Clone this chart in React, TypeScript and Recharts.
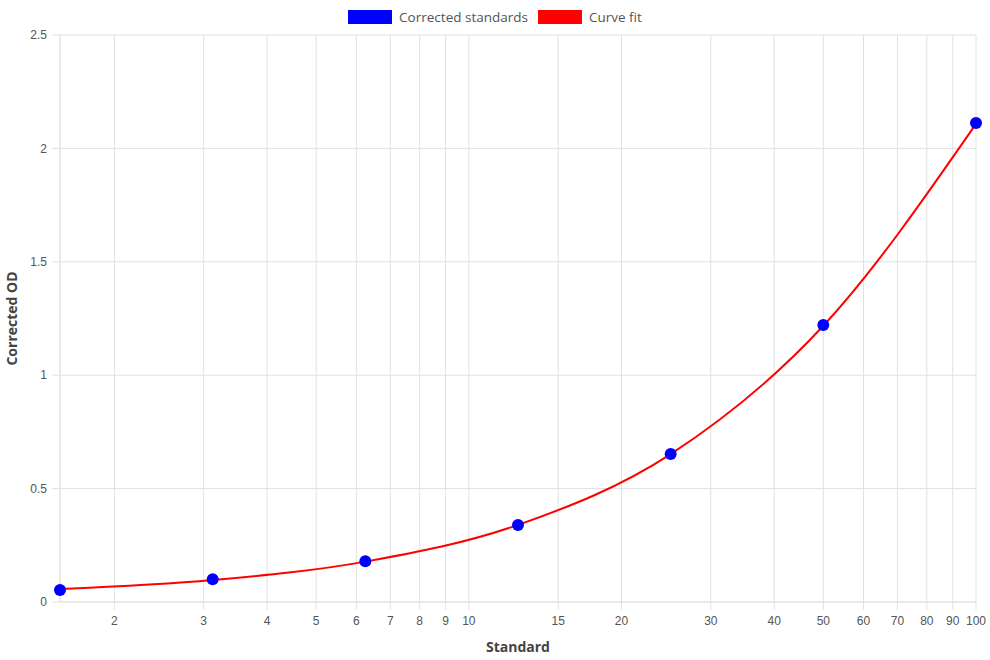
import React from 'react';
import { ComposedChart, Line, Scatter, XAxis, YAxis, CartesianGrid } from 'recharts';

const standards = [1.5625, 3.125, 6.25, 12.5, 25, 50, 100];
const correctedOD = [0.053, 0.1, 0.18, 0.339, 0.653, 1.221, 2.112];
const curveFit = [0.057, 0.097, 0.178, 0.34, 0.652, 1.218, 2.108];
const xTicks = [2, 3, 4, 5, 6, 7, 8, 9, 10, 15, 20, 30, 40, 50, 60, 70, 80, 90, 100];
const yTicks = [0, 0.5, 1, 1.5, 2, 2.5];
const seriesNames = ['Corrected standards', 'Curve fit'];

const data = standards.map((s, i) => ({ std: s, od: correctedOD[i], fit: curveFit[i] }));

const GRID = '#e1e1e1';
const TICK_FONT = '"Liberation Sans", Arial, sans-serif';
const TITLE_FONT = '"Open Sans", "Noto Sans", sans-serif';

const Dot = (props: any) => <circle cx={props.cx} cy={props.cy} r={6} fill="#0000ff" />;

export default function App() {
  return (
    <div style={{ position: 'absolute', left: 0, top: 0, width: 990, height: 660, background: '#fff' }}>
      <div
        style={{
          position: 'absolute',
          top: 8,
          left: 0,
          width: 990,
          display: 'flex',
          justifyContent: 'center',
          alignItems: 'center',
          fontFamily: TITLE_FONT,
          fontSize: 13.5,
          color: '#555',
          lineHeight: '18px',
        }}
      >
        <span style={{ display: 'inline-block', width: 44, height: 14, background: '#0000ff', marginRight: 7 }} />
        <span style={{ marginRight: 10 }}>{seriesNames[0]}</span>
        <span style={{ display: 'inline-block', width: 44, height: 14, background: '#ff0000', marginRight: 7 }} />
        <span>{seriesNames[1]}</span>
      </div>
      <ComposedChart width={990} height={660} data={data} margin={{ top: 35, right: 14, left: 0, bottom: 0 }}>
        <CartesianGrid stroke={GRID} strokeWidth={1} />
        <XAxis
          dataKey="std"
          type="number"
          scale="log"
          domain={[1.5625, 100]}
          ticks={xTicks}
          interval={0}
          height={58}
          stroke={GRID}
          tickSize={8}
          tickMargin={6}
          tickLine={{ stroke: GRID }}
          axisLine={{ stroke: GRID }}
          tick={{ fill: '#555', fontSize: 12, fontFamily: TICK_FONT }}
          label={{
            value: 'Standard',
            position: 'insideBottom',
            offset: 8,
            style: { fontFamily: TITLE_FONT, fontWeight: 700, fontSize: 14, fill: '#444' },
          }}
        />
        <YAxis
          type="number"
          domain={[0, 2.5]}
          ticks={yTicks}
          interval={0}
          width={60}
          stroke={GRID}
          tickSize={8}
          tickMargin={5}
          tickLine={{ stroke: GRID }}
          axisLine={{ stroke: GRID }}
          tick={{ fill: '#555', fontSize: 12, fontFamily: TICK_FONT }}
          label={{
            value: 'Corrected OD',
            angle: -90,
            position: 'insideLeft',
            offset: 12,
            style: { textAnchor: 'middle', fontFamily: TITLE_FONT, fontWeight: 700, fontSize: 14, fill: '#444' },
          }}
        />
        <Line
          dataKey="fit"
          type="monotone"
          stroke="#ff0000"
          strokeWidth={2}
          dot={false}
          activeDot={false}
          isAnimationActive={false}
        />
        <Scatter dataKey="od" fill="#0000ff" shape={Dot} isAnimationActive={false} />
      </ComposedChart>
    </div>
  );
}
